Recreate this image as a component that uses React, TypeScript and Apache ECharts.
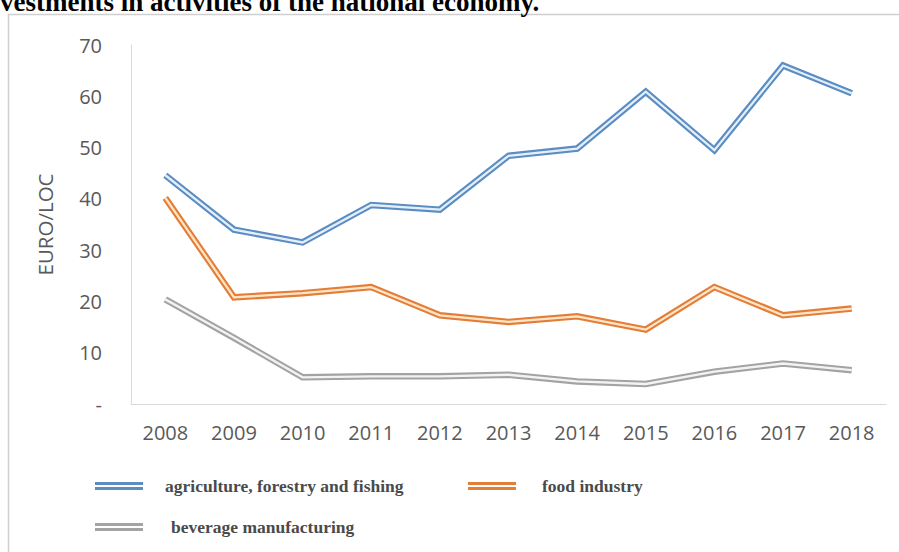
import React, { useEffect, useRef } from "react";
import * as echarts from "echarts";

const years = ["2008", "2009", "2010", "2011", "2012", "2013", "2014", "2015", "2016", "2017", "2018"];
const agriculture = [44.6, 34.0, 31.5, 38.8, 37.9, 48.4, 49.8, 60.9, 49.5, 66.0, 60.6];
const food = [40.2, 20.8, 21.6, 22.8, 17.3, 16.0, 17.1, 14.5, 22.8, 17.3, 18.6];
const beverage = [20.4, 12.9, 5.2, 5.4, 5.4, 5.7, 4.4, 3.9, 6.3, 7.9, 6.6];

const names = ["agriculture, forestry and fishing", "food industry", "beverage manufacturing"];
const outerColors = ["#5B8DC2", "#E47D38", "#A3A3A3"];
const innerColors = ["#E3EFFA", "#FDE6C6", "#F3F3F3"];

export default function App() {
  const ref = useRef<HTMLDivElement>(null);
  useEffect(() => {
    if (!ref.current) return;
    const chart = echarts.init(ref.current, undefined, { renderer: "svg" });
    const datasets = [agriculture, food, beverage];
    const series: any[] = [];
    datasets.forEach((d, i) => {
      series.push({
        type: "line",
        name: names[i],
        data: d,
        showSymbol: false,
        symbol: "none",
        silent: true,
        color: outerColors[i],
        lineStyle: { width: 6.5, color: outerColors[i], join: "miter", miterLimit: 10 },
        z: 2,
      });
    });
    datasets.forEach((d, i) => {
      series.push({
        type: "line",
        name: names[i],
        data: d,
        showSymbol: false,
        symbol: "none",
        silent: true,
        color: innerColors[i],
        lineStyle: { width: 2.3, color: innerColors[i], join: "miter", miterLimit: 10 },
        z: 3,
      });
    });
    const legendIcon = "path://M0,0H48V3H0Z M0,5H48V8H0Z";
    const legendBase = {
      orient: "horizontal",
      padding: 0,
      icon: legendIcon,
      itemWidth: 48,
      itemHeight: 8,
      itemStyle: { borderWidth: 0 },
      selectedMode: false,
    };
    const legendText = (pad: number) => ({
      fontFamily: "Liberation Serif",
      fontWeight: "bold",
      fontSize: 17.5,
      color: "#4a4a4a",
      lineHeight: 20,
      padding: [0, 0, 0, pad],
    });
    const axisFont = { color: "#595959", fontSize: 20, fontFamily: "Open Sans" };
    chart.setOption({
      animation: false,
      backgroundColor: "#ffffff",
      grid: { left: 131, right: 13, top: 45, bottom: 148, containLabel: false },
      xAxis: {
        type: "category",
        data: years,
        boundaryGap: true,
        axisLine: { show: true, lineStyle: { color: "#D9D9D9", width: 1 } },
        axisTick: { show: false },
        axisLabel: { ...axisFont, margin: 18 },
      },
      yAxis: {
        type: "value",
        min: 0,
        max: 70,
        interval: 10,
        name: "EURO/LOC",
        nameLocation: "middle",
        nameRotate: 90,
        nameGap: 76,
        nameTextStyle: { ...axisFont, fontSize: 20.5 },
        axisLine: { show: true, lineStyle: { color: "#D9D9D9", width: 1 } },
        axisTick: { show: false },
        splitLine: { show: false },
        axisLabel: {
          ...axisFont,
          margin: 29,
          formatter: (v: number) => (v === 0 ? "-" : String(v)),
        },
      },
      legend: [
        { ...legendBase, left: 95, top: 476, data: [names[0]], textStyle: legendText(17) },
        { ...legendBase, left: 468, top: 476, data: [names[1]], textStyle: legendText(21) },
        { ...legendBase, left: 95, top: 517, data: [names[2]], textStyle: legendText(23) },
      ],
      graphic: [
        {
          type: "rect",
          shape: { x: 8.5, y: 14.5, width: 1000, height: 1000 },
          style: { fill: "none", stroke: "#CFCFCF", lineWidth: 1.5 },
          silent: true,
        },
        {
          type: "text",
          x: 0,
          y: -11.5,
          style: {
            text: "vestments in activities of the national economy.",
            font: "bold 27px 'Liberation Serif'",
            fill: "#000000",
            verticalAlign: "top",
          },
          silent: true,
        },
      ],
      series,
    });
    return () => chart.dispose();
  }, []);
  return (
    <div
      ref={ref}
      style={{ position: "absolute", left: 0, top: 0, width: 899, height: 552, background: "#fff" }}
    />
  );
}
